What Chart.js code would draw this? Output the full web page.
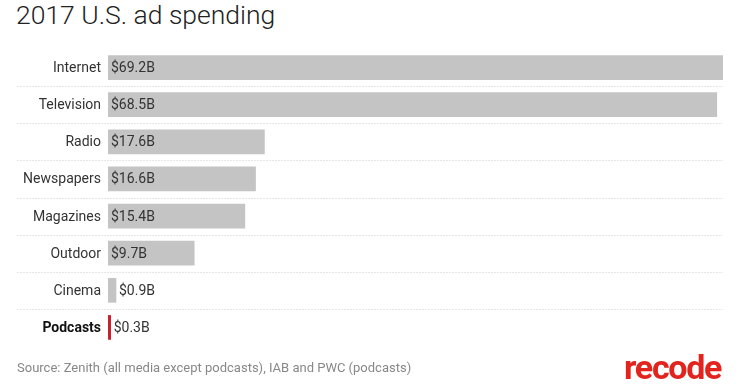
<!DOCTYPE html>
<html>
<head>
<meta charset="utf-8">
<script src="https://cdn.jsdelivr.net/npm/chart.js@4"></script>
<style>
  html, body { margin: 0; padding: 0; background: #fff; }
  #wrap { position: relative; width: 740px; height: 389px; overflow: hidden; font-family: Roboto, sans-serif; }
  #title { position: absolute; left: 16px; top: -1px; font-size: 26.5px; font-weight: 300; color: #222; white-space: nowrap; }
  #source { position: absolute; left: 17px; top: 360px; font-size: 13px; color: #888; white-space: nowrap; }
  #logo { position: absolute; left: 624px; top: 347px; font-size: 34px; font-weight: 700; color: #e3231d; letter-spacing: -1.3px; font-family: "Liberation Sans Narrow", Roboto, sans-serif; }
  canvas { position: absolute; left: 0; top: 0; }
</style>
</head>
<body>
<div id="wrap">
  <div id="title">2017 U.S. ad spending</div>
  <canvas id="chart" width="740" height="389"></canvas>
  <div id="source">Source: Zenith (all media except podcasts), IAB and PWC (podcasts)</div>
  <div id="logo">recode</div>
</div>
<script>
// data
var media = ['Internet', 'Television', 'Radio', 'Newspapers', 'Magazines', 'Outdoor', 'Cinema', 'Podcasts'];
var spending = [69.2, 68.5, 17.6, 16.6, 15.4, 9.7, 0.9, 0.3];
var highlight = 'Podcasts';

var barColors = media.map(function(m) { return m === highlight ? '#c8202c' : '#c4c4c4'; });

// labels, separators and value text
var labelPlugin = {
    id: 'labels',
    beforeDatasetsDraw: function(chart) {
        var ctx = chart.ctx;
        var y = chart.scales.y;
        var area = chart.chartArea;
        ctx.save();
        ctx.strokeStyle = '#e6e6e6';
        ctx.lineWidth = 1;
        ctx.setLineDash([2, 1]);
        for (var i = 0; i < media.length - 1; i++) {
            var yy = Math.round((y.getPixelForValue(i) + y.getPixelForValue(i + 1)) / 2) + 0.5;
            ctx.beginPath();
            ctx.moveTo(17, yy);
            ctx.lineTo(area.right, yy);
            ctx.stroke();
        }
        ctx.restore();
    },
    afterDatasetsDraw: function(chart) {
        var ctx = chart.ctx;
        var y = chart.scales.y;
        var x = chart.scales.x;
        var meta = chart.getDatasetMeta(0);
        ctx.save();
        ctx.textBaseline = 'middle';
        media.forEach(function(m, i) {
            var cy = y.getPixelForValue(i) + 1;
            ctx.textAlign = 'right';
            ctx.fillStyle = m === highlight ? '#111' : '#333';
            ctx.font = (m === highlight ? 'bold ' : '') + '14px Roboto';
            ctx.fillText(m, x.left - 7, cy);

            var txt = '$' + spending[i].toFixed(1) + 'B';
            ctx.font = '14px Roboto';
            ctx.fillStyle = '#333';
            ctx.textAlign = 'left';
            var w = ctx.measureText(txt).width;
            var barEnd = meta.data[i].x;
            var tx = (barEnd - x.left > w + 6) ? x.left + 3 : barEnd + 3;
            ctx.fillText(txt, tx, cy);
        });
        ctx.restore();
    }
};

var ctx = document.getElementById('chart').getContext('2d');
var chart = new Chart(ctx, {
    type: 'bar',
    data: {
        labels: media,
        datasets: [{
            data: spending,
            backgroundColor: barColors,
            barThickness: 24,
            borderWidth: 0
        }]
    },
    options: {
        indexAxis: 'y',
        responsive: false,
        animation: false,
        layout: { padding: { left: 108, right: 17, top: 49, bottom: 43 } },
        plugins: { legend: { display: false }, tooltip: { enabled: false } },
        scales: {
            x: { display: false, min: 0, max: 69.2 },
            y: { display: false }
        }
    },
    plugins: [labelPlugin]
});
</script>
</body>
</html>
